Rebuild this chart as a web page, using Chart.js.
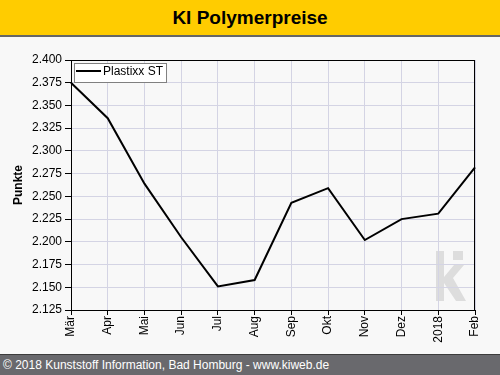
<!DOCTYPE html>
<html>
<head>
<meta charset="utf-8">
<script src="https://cdn.jsdelivr.net/npm/chart.js@4/dist/chart.umd.min.js"></script>
<style>
  html, body { margin: 0; padding: 0; background: #f8f8f8; width: 500px; height: 375px; overflow: hidden; font-family: "Liberation Sans", Arial, sans-serif; }
  #title { height: 35px; background: #ffcc00; border-bottom: 2px solid #666666; text-align: center; font-weight: bold; font-size: 19px; line-height: 36px; color: #000; }
  #wrap { width: 500px; height: 317px; position: relative; }
  #footer { position: absolute; left: 0; top: 354px; width: 500px; height: 20px; background: #69696d; border-top: 1px solid #3c3c3c; color: #fff; font-size: 12px; line-height: 20px; padding-left: 3px; box-sizing: content-box; }
</style>
</head>
<body>
<div id="title">KI Polymerpreise</div>
<div id="wrap"><canvas id="c" width="500" height="317"></canvas></div>
<div id="footer">© 2018 Kunststoff Information, Bad Homburg - www.kiweb.de</div>
<script>
const categories = ["Mär", "Apr", "Mai", "Jun", "Jul", "Aug", "Sep", "Okt", "Nov", "Dez", "2018", "Feb"];
const plastixxST = [2.375, 2.336, 2.264, 2.205, 2.151, 2.158, 2.243, 2.259, 2.202, 2.225, 2.231, 2.282];
const seriesName = "Plastixx ST";
const yTitle = "Punkte";
const yMin = 2.125, yMax = 2.400, yStep = 0.025;

const FONT = '"Liberation Sans", Arial, sans-serif';

const bgPlugin = {
  id: 'watermark',
  beforeDraw(chart) {
    const ctx = chart.ctx, a = chart.chartArea;
    ctx.save();
    ctx.fillStyle = '#dddddd';
    const x0 = a.right - 39, y0 = a.bottom - 59;
    ctx.fillRect(x0, y0, 8, 50);
    ctx.fillRect(x0 + 17, y0, 10, 9);
    ctx.beginPath();
    ctx.moveTo(x0 + 8, y0 + 26);
    ctx.lineTo(x0 + 18, y0 + 14);
    ctx.lineTo(x0 + 28, y0 + 14);
    ctx.lineTo(x0 + 17, y0 + 27);
    ctx.lineTo(x0 + 30, y0 + 50);
    ctx.lineTo(x0 + 20, y0 + 50);
    ctx.lineTo(x0 + 8, y0 + 32);
    ctx.closePath();
    ctx.fill();
    ctx.restore();
  },
  afterDraw(chart) {
    const ctx = chart.ctx, a = chart.chartArea;
    ctx.save();
    ctx.strokeStyle = '#000';
    ctx.lineWidth = 1;
    ctx.strokeRect(a.left + 0.5, a.top + 0.5, a.right - a.left - 1, a.bottom - a.top);
    // legend
    const ds = chart.data.datasets[0];
    const lx = a.left + 3, ly = a.top + 3;
    ctx.font = '12px ' + FONT;
    const tw = ctx.measureText(ds.label).width;
    const w = 30 + tw + 2, h = 19;
    ctx.fillStyle = '#ffffff';
    ctx.fillRect(lx, ly, w, h);
    ctx.strokeStyle = '#808080';
    ctx.strokeRect(lx + 0.5, ly + 0.5, w, h);
    ctx.strokeStyle = ds.borderColor;
    ctx.lineWidth = 2;
    ctx.beginPath();
    ctx.moveTo(lx + 2, ly + 8);
    ctx.lineTo(lx + 27, ly + 8);
    ctx.stroke();
    ctx.fillStyle = '#000';
    ctx.textBaseline = 'middle';
    ctx.fillText(ds.label, lx + 29, ly + 8.5);
    ctx.restore();
  }
};

new Chart(document.getElementById('c'), {
  type: 'line',
  data: {
    labels: categories,
    datasets: [{
      label: seriesName,
      data: plastixxST,
      borderColor: '#000000',
      borderWidth: 2,
      pointRadius: 0,
      tension: 0,
      fill: false
    }]
  },
  options: {
    responsive: false,
    animation: false,
    devicePixelRatio: 1,
    layout: { padding: { top: 23, right: 25, left: 0, bottom: 0 } },
    plugins: { legend: { display: false }, tooltip: { enabled: false } },
    scales: {
      x: {
        type: 'category',
        offset: false,
        grid: { color: '#d4d4e4', tickColor: '#000', tickLength: 5, lineWidth: 1 },
        border: { color: '#000', width: 1 },
        ticks: { color: '#000', font: { family: FONT, size: 12 }, minRotation: 90, maxRotation: 90, padding: 1, autoSkip: false },
        afterFit(s) { s.height = 44; }
      },
      y: {
        min: yMin, max: yMax,
        grid: { color: '#d4d4e4', tickColor: '#000', tickLength: 6, lineWidth: 1 },
        border: { color: '#000', width: 1 },
        ticks: { stepSize: yStep, color: '#000', font: { family: FONT, size: 12 }, padding: 3,
          callback: v => Number(v).toFixed(3) },
        title: { display: true, text: yTitle, color: '#000', font: { family: FONT, size: 12, weight: 'bold' }, padding: { top: 11, bottom: 0 } },
        afterFit(s) { s.width = 71; }
      }
    }
  },
  plugins: [bgPlugin]
});
</script>
</body>
</html>
